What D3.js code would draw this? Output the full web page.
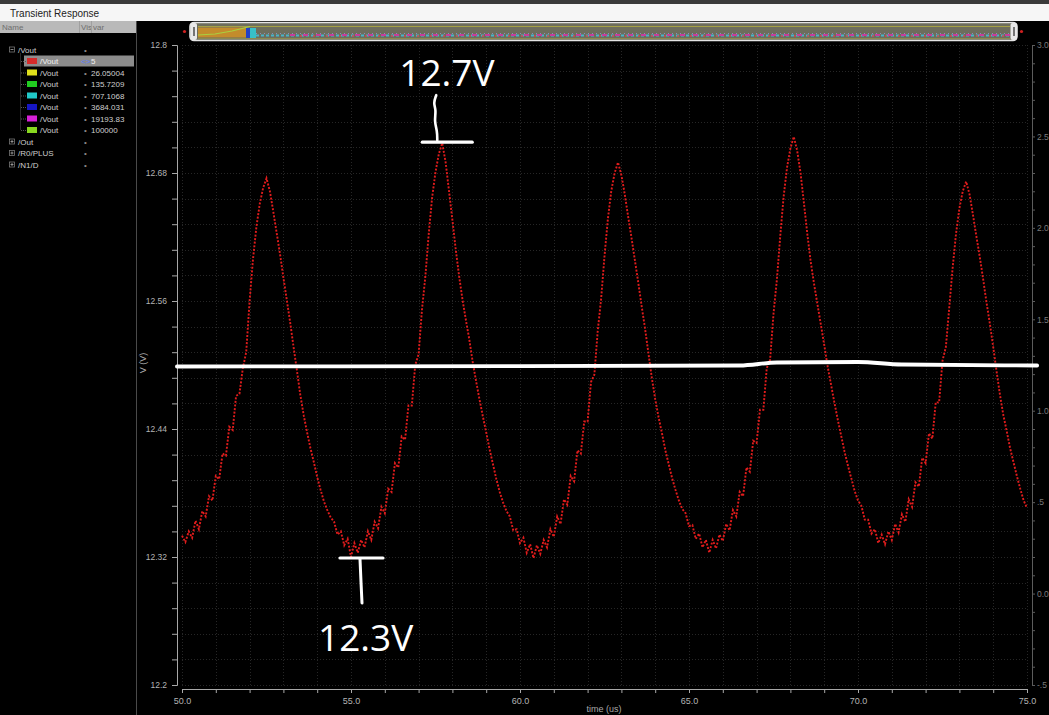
<!DOCTYPE html>
<html>
<head>
<meta charset="utf-8">
<script src="https://cdn.jsdelivr.net/npm/d3@7"></script>
<style>
  html, body { margin: 0; padding: 0; background: #000; overflow: hidden; }
  svg { display: block; }
</style>
</head>
<body>
<svg id="chart" width="1049" height="715"></svg>
<script>
// ---- data: /Vout transient, sampled every 0.1 us from 50.0 us ----
const timeStartUs = 50.0;
const timeStepUs = 0.1;
const vout = [
  // 50.0 .. 52.5 (rise to first peak)
  12.340, 12.334, 12.344, 12.338, 12.354, 12.346, 12.363, 12.358, 12.377, 12.373,
  12.396, 12.393, 12.417, 12.415, 12.442, 12.439, 12.471, 12.473, 12.497, 12.512,
  12.560, 12.599, 12.629, 12.651, 12.666, 12.675,
  // 52.6 .. 55.1
  12.663, 12.644, 12.624, 12.604, 12.582, 12.561, 12.540, 12.517, 12.495, 12.472,
  12.453, 12.437, 12.422, 12.409, 12.395, 12.383, 12.372, 12.364, 12.357, 12.353,
  12.341, 12.344, 12.331, 12.337, 12.320, 12.333,
  // 55.2 .. 57.7
  12.324, 12.336, 12.329, 12.344, 12.336, 12.353, 12.347, 12.367, 12.361, 12.384,
  12.381, 12.408, 12.404, 12.433, 12.430, 12.462, 12.462, 12.500, 12.510, 12.552,
  12.583, 12.623, 12.657, 12.681, 12.698, 12.708,
  // 57.8 .. 60.4
  12.690, 12.663, 12.636, 12.608, 12.583, 12.561, 12.542, 12.524, 12.503, 12.485,
  12.468, 12.452, 12.437, 12.421, 12.407, 12.393, 12.381, 12.371, 12.363, 12.358,
  12.345, 12.346, 12.333, 12.338, 12.324, 12.332, 12.319,
  // 60.5 .. 62.9
  12.331, 12.323, 12.336, 12.329, 12.346, 12.339, 12.358, 12.351, 12.374, 12.369,
  12.396, 12.391, 12.420, 12.417, 12.447, 12.447, 12.484, 12.491, 12.532, 12.562,
  12.602, 12.637, 12.663, 12.680, 12.690,
  // 63.0 .. 65.6
  12.678, 12.660, 12.639, 12.619, 12.598, 12.577, 12.555, 12.534, 12.511, 12.488,
  12.468, 12.451, 12.436, 12.420, 12.407, 12.394, 12.383, 12.373, 12.365, 12.361,
  12.349, 12.350, 12.337, 12.342, 12.329, 12.336, 12.324,
  // 65.7 .. 68.1
  12.336, 12.328, 12.341, 12.335, 12.351, 12.345, 12.364, 12.358, 12.381, 12.377,
  12.404, 12.400, 12.429, 12.427, 12.458, 12.458, 12.497, 12.505, 12.548, 12.580,
  12.621, 12.658, 12.685, 12.703, 12.714,
  // 68.2 .. 70.7
  12.701, 12.680, 12.652, 12.623, 12.597, 12.576, 12.557, 12.538, 12.519, 12.499,
  12.482, 12.465, 12.449, 12.434, 12.419, 12.406, 12.394, 12.382, 12.373, 12.368,
  12.355, 12.355, 12.342, 12.346, 12.333, 12.341,
  // 70.8 .. 73.2
  12.332, 12.344, 12.336, 12.351, 12.343, 12.360, 12.353, 12.374, 12.367, 12.390,
  12.386, 12.413, 12.408, 12.436, 12.431, 12.465, 12.465, 12.504, 12.517, 12.554,
  12.591, 12.623, 12.647, 12.663, 12.672,
  // 73.3 .. 75.0
  12.660, 12.641, 12.621, 12.602, 12.581, 12.559, 12.539, 12.517, 12.494, 12.472,
  12.453, 12.438, 12.422, 12.409, 12.396, 12.384, 12.373, 12.366
];

// axes
const timeDomain = [50, 75];
const xMajorTicks = [50, 55, 60, 65, 70, 75];
const voltDomain = [12.2, 12.8];
const yMajorTicks = [12.2, 12.32, 12.44, 12.56, 12.68, 12.8];
const rightDomain = [-0.5, 3.0];
const rightMajorTicks = [-0.5, 0, 0.5, 1.0, 1.5, 2.0, 2.5, 3.0];
const rightTickLabels = ["-.5", "0.0", ".5", "1.0", "1.5", "2.0", "2.5", "3.0"];

// browser tree (parametric sweep of /Vout)
const sweepColors = ["#d42a2a", "#e0e01c", "#20cc20", "#20c8c8", "#1616c4", "#d820d8", "#88d820"];
const sweepValues = ["5", "26.05004", "135.7209", "707.1068", "3684.031", "19193.83", "100000"];
const otherNodes = ["/Out", "/R0/PLUS", "/N1/D"];

// hand-drawn marks
const midLevel = 12.5;
const peakWindow = [56.5, 59.0];
const troughWindow = [54.0, 56.5];

// ---- drawing ----
const FONT = "'Liberation Sans', Arial, sans-serif";
const svg = d3.select("#chart");
const W = 1049, H = 715;
const plot = { left: 182, right: 1027, top: 45, bottom: 685 };

const x = d3.scaleLinear().domain(timeDomain).range([plot.left, plot.right]);
const y = d3.scaleLinear().domain(voltDomain).range([plot.bottom, plot.top]);
const yR = d3.scaleLinear().domain(rightDomain).range([plot.bottom, plot.top]);

svg.append("rect").attr("width", W).attr("height", H).attr("fill", "#000");

// window title strip
svg.append("rect").attr("x", 0).attr("y", 0).attr("width", W).attr("height", 4).attr("fill", "#3a3a3a");
svg.append("rect").attr("x", 0).attr("y", 4).attr("width", W).attr("height", 17).attr("fill", "#f6f6f6");
svg.append("text").attr("x", 10).attr("y", 17).text("Transient Response")
  .attr("font-family", FONT).attr("font-size", 10).attr("fill", "#222");

// ---- left browser panel ----
const panel = svg.append("g");
panel.append("rect").attr("x", 0).attr("y", 21).attr("width", 136).attr("height", 12).attr("fill", "#b9b9b9");
[["Name", 2], ["Vis", 81], ["var", 93]].forEach(([t, px]) => {
  panel.append("text").attr("x", px).attr("y", 30).text(t)
    .attr("font-family", FONT).attr("font-size", 8).attr("fill", "#6e6e6e");
});
[79, 91].forEach(px => panel.append("line").attr("x1", px + 0.5).attr("x2", px + 0.5)
  .attr("y1", 21).attr("y2", 33).attr("stroke", "#a0a0a0"));
panel.append("line").attr("x1", 136.5).attr("x2", 136.5).attr("y1", 21).attr("y2", H)
  .attr("stroke", "#4a4a4a");

const rowY = i => 49.5 + i * 11.5;
const txt = (g, s, px, py, fill) => g.append("text").attr("x", px).attr("y", py + 3).text(s)
  .attr("font-family", FONT).attr("font-size", 8).attr("fill", fill || "#cfcfcf");
const expander = (g, py, open) => {
  g.append("rect").attr("x", 9.5).attr("y", py - 2.5).attr("width", 5).attr("height", 5)
    .attr("fill", "none").attr("stroke", "#777").attr("stroke-width", 0.8);
  g.append("line").attr("x1", 10.5).attr("x2", 13.5).attr("y1", py).attr("y2", py)
    .attr("stroke", "#aaa").attr("stroke-width", 0.8);
  if (!open) g.append("line").attr("x1", 12).attr("x2", 12).attr("y1", py - 1.5).attr("y2", py + 1.5)
    .attr("stroke", "#aaa").attr("stroke-width", 0.8);
};

expander(panel, rowY(0), true);
txt(panel, "/Vout", 18, rowY(0));
txt(panel, "\u2022", 84, rowY(0), "#888");
panel.append("line").attr("x1", 20.5).attr("x2", 20.5).attr("y1", rowY(0) + 4).attr("y2", rowY(7))
  .attr("stroke", "#555").attr("stroke-dasharray", "1,1");

sweepValues.forEach((v, i) => {
  const py = rowY(i + 1);
  if (i === 0) {
    panel.append("rect").attr("x", 24).attr("y", py - 5.5).attr("width", 110).attr("height", 11)
      .attr("fill", "#8c8c8c");
  }
  panel.append("line").attr("x1", 21).attr("x2", 26).attr("y1", py + 0.5).attr("y2", py + 0.5)
    .attr("stroke", "#555").attr("stroke-dasharray", "1,1");
  panel.append("rect").attr("x", 27).attr("y", py - 3).attr("width", 10).attr("height", 6)
    .attr("fill", sweepColors[i]);
  txt(panel, "/Vout", 40, py, i === 0 ? "#f0f0f0" : "#cfcfcf");
  if (i === 0) txt(panel, "<>", 81, py, "#5c7cff");
  else txt(panel, "\u2022", 84, py, "#888");
  txt(panel, v, 91, py, i === 0 ? "#f0f0f0" : "#cfcfcf");
});

otherNodes.forEach((n, i) => {
  const py = rowY(8 + i);
  expander(panel, py, false);
  txt(panel, n, 18, py);
  txt(panel, "\u2022", 84, py, "#888");
});

// ---- overview scroll bar ----
const sb = svg.append("g");
sb.append("circle").attr("cx", 184.5).attr("cy", 31.5).attr("r", 1.6).attr("fill", "#d02020");
sb.append("circle").attr("cx", 1021.5).attr("cy", 31.5).attr("r", 1.6).attr("fill", "#d02020");
sb.append("rect").attr("x", 190).attr("y", 22.5).attr("width", 827).attr("height", 18).attr("rx", 4)
  .attr("fill", "#6d6d5c").attr("stroke", "#e4e4e4").attr("stroke-width", 1.6);
sb.append("line").attr("x1", 198).attr("x2", 1010).attr("y1", 26.5).attr("y2", 26.5)
  .attr("stroke", "#a4a046").attr("stroke-width", 1.2);
sb.append("line").attr("x1", 198).attr("x2", 1010).attr("y1", 38.5).attr("y2", 38.5)
  .attr("stroke", "#8a8a50").attr("stroke-width", 1);
sb.append("rect").attr("x", 198).attr("y", 27.5).attr("width", 48).attr("height", 10).attr("fill", "#c38c2c");
sb.append("path").attr("d", "M198,35 L215,34 L232,31 L250,26.5").attr("fill", "none")
  .attr("stroke", "#a8d040").attr("stroke-width", 1.2);
sb.append("rect").attr("x", 246).attr("y", 28).attr("width", 4).attr("height", 10).attr("fill", "#2340c8");
sb.append("rect").attr("x", 250).attr("y", 28).attr("width", 6).attr("height", 10).attr("fill", "#38c0c8");
sb.append("line").attr("x1", 256).attr("x2", 1010).attr("y1", 35.5).attr("y2", 35.5)
  .attr("stroke", "#48b4c8").attr("stroke-width", 2.2).attr("stroke-dasharray", "3,2");
sb.append("line").attr("x1", 290).attr("x2", 1010).attr("y1", 35).attr("y2", 35)
  .attr("stroke", "#c83c9c").attr("stroke-width", 2.2).attr("stroke-dasharray", "5,8");
sb.append("line").attr("x1", 300).attr("x2", 1010).attr("y1", 36).attr("y2", 36)
  .attr("stroke", "#d04848").attr("stroke-width", 1.6).attr("stroke-dasharray", "2,11");
sb.append("line").attr("x1", 256).attr("x2", 1010).attr("y1", 33.5).attr("y2", 33.5)
  .attr("stroke", "#8a8fb8").attr("stroke-width", 1).attr("stroke-dasharray", "1,3");
[[190.5, 193.5], [1010.5, 1013.5]].forEach(([hx, lx]) => {
  sb.append("rect").attr("x", hx).attr("y", 23).attr("width", 6.5).attr("height", 17).attr("rx", 2)
    .attr("fill", "#e8e8e8");
  sb.append("line").attr("x1", lx + 0.5).attr("x2", lx + 0.5).attr("y1", 27).attr("y2", 36)
    .attr("stroke", "#444").attr("stroke-width", 1.4);
});

// ---- grid ----
const grid = svg.append("g");
d3.range(timeDomain[0], timeDomain[1] + 0.001, 1).forEach(t => {
  grid.append("line").attr("x1", Math.round(x(t)) + 0.5).attr("x2", Math.round(x(t)) + 0.5)
    .attr("y1", plot.top).attr("y2", plot.bottom)
    .attr("stroke", "#262626").attr("stroke-dasharray", "1,2");
});
const yMinor = d3.range(0, 26).map(i => voltDomain[0] + i * 0.024);
yMinor.forEach(v => {
  grid.append("line").attr("x1", plot.left).attr("x2", plot.right)
    .attr("y1", Math.round(y(v)) + 0.5).attr("y2", Math.round(y(v)) + 0.5)
    .attr("stroke", "#262626").attr("stroke-dasharray", "1,2");
});

// ---- axes ----
const isMajor = (v, list) => list.some(m => Math.abs(m - v) < 1e-6);
const styleAxis = (g, col, txtCol, size) => {
  g.select(".domain").attr("stroke", col);
  g.selectAll(".tick line").attr("stroke", col);
  g.selectAll(".tick text").attr("fill", txtCol).attr("font-family", FONT).attr("font-size", size);
};

const leftAxis = d3.axisLeft(y).tickValues(yMinor)
  .tickFormat(v => isMajor(v, yMajorTicks) ? d3.format("")(+v.toFixed(2)) : "")
  .tickSizeInner(5).tickSizeOuter(5).tickPadding(5);
styleAxis(svg.append("g").attr("transform", "translate(177,0)").call(leftAxis), "#a8a8a8", "#b4b4b4", 8.5);

const xMinor = d3.range(timeDomain[0], timeDomain[1] + 0.001, 1);
const bottomAxis = d3.axisBottom(x).tickValues(xMinor)
  .tickFormat(t => isMajor(t, xMajorTicks) ? d3.format(".1f")(t) : "")
  .tickSizeInner(4).tickSizeOuter(4).tickPadding(5);
styleAxis(svg.append("g").attr("transform", "translate(0,689)").call(bottomAxis), "#a8a8a8", "#b4b4b4", 9);

const rMinor = d3.range(0, 36).map(i => rightDomain[0] + i * 0.1);
const rightAxis = d3.axisRight(yR).tickValues(rMinor)
  .tickFormat(v => {
    const k = rightMajorTicks.findIndex(m => Math.abs(m - v) < 1e-6);
    return k >= 0 ? rightTickLabels[k] : "";
  })
  .tickSizeInner(3).tickSizeOuter(3).tickPadding(2);
styleAxis(svg.append("g").attr("transform", "translate(1032,0)").call(rightAxis), "#5c5c5c", "#7a7a7a", 8.5);

svg.append("text").attr("transform", "translate(146,363) rotate(-90)").attr("text-anchor", "middle")
  .text("V (V)").attr("font-family", FONT).attr("font-size", 9).attr("fill", "#a8a8a8");
svg.append("text").attr("x", 604).attr("y", 712).attr("text-anchor", "middle")
  .text("time (us)").attr("font-family", FONT).attr("font-size", 9).attr("fill", "#a8a8a8");

// ---- waveform ----
const points = vout.map((v, i) => [timeStartUs + i * timeStepUs, v]);
const line = d3.line().x(d => x(d[0])).y(d => y(d[1]));
svg.append("path").datum(points).attr("d", line)
  .attr("fill", "none").attr("stroke", "#e01c1c").attr("stroke-width", 1.9)
  .attr("stroke-dasharray", "2,1.6");

// ---- hand-drawn markings ----
const ink = svg.append("g").attr("stroke", "#fff").attr("fill", "none")
  .attr("stroke-linecap", "round").attr("stroke-linejoin", "round");

// level line near the middle of the swing
const ly = y(midLevel);
ink.append("path").attr("stroke-width", 3.8)
  .attr("d", d3.line().curve(d3.curveMonotoneX)([
    [x(49.85), ly + 1.5], [x(60), ly + 1.2], [x(66.5), ly + 0.5], [x(67.6), ly - 2.5],
    [x(70), ly - 3], [x(71.3), ly - 0.5], [x(75.3), ly + 0.5]
  ]));

const inWin = (w) => points.filter(p => p[0] >= w[0] && p[0] <= w[1]);
const peak = d3.greatest(inWin(peakWindow), p => p[1]);
const trough = d3.least(inWin(troughWindow), p => p[1]);
const fmtV = v => d3.format(".1f")(v) + "V";

// peak bracket
const px = x(peak[0]), py = y(peak[1]);
ink.append("line").attr("stroke-width", 3.2)
  .attr("x1", px - 20).attr("x2", px + 30).attr("y1", py - 1).attr("y2", py - 1);
ink.append("path").attr("stroke-width", 2.6)
  .attr("d", d3.line().curve(d3.curveBasis)([
    [px - 6, py - 48], [px - 9, py - 40], [px - 6, py - 33], [px - 8, py - 22], [px - 5, py - 12], [px - 5, py - 3]
  ]));
svg.append("text").attr("x", px - 43).attr("y", py - 57).text(fmtV(peak[1]))
  .attr("font-family", "'Open Sans', 'Noto Sans', sans-serif").attr("font-size", 37).attr("fill", "#fff");

// trough marker
const tx = x(trough[0]), ty = y(trough[1]);
ink.append("line").attr("stroke-width", 3.2)
  .attr("x1", tx - 11).attr("x2", tx + 32).attr("y1", ty + 1).attr("y2", ty + 1);
ink.append("path").attr("stroke-width", 3)
  .attr("d", d3.line()([[tx + 9, ty + 2], [tx + 10, ty + 25], [tx + 11, ty + 46]]));
svg.append("text").attr("x", tx - 33).attr("y", ty + 94).text(fmtV(trough[1]))
  .attr("font-family", "'Open Sans', 'Noto Sans', sans-serif").attr("font-size", 37).attr("fill", "#fff");
</script>
</body>
</html>
